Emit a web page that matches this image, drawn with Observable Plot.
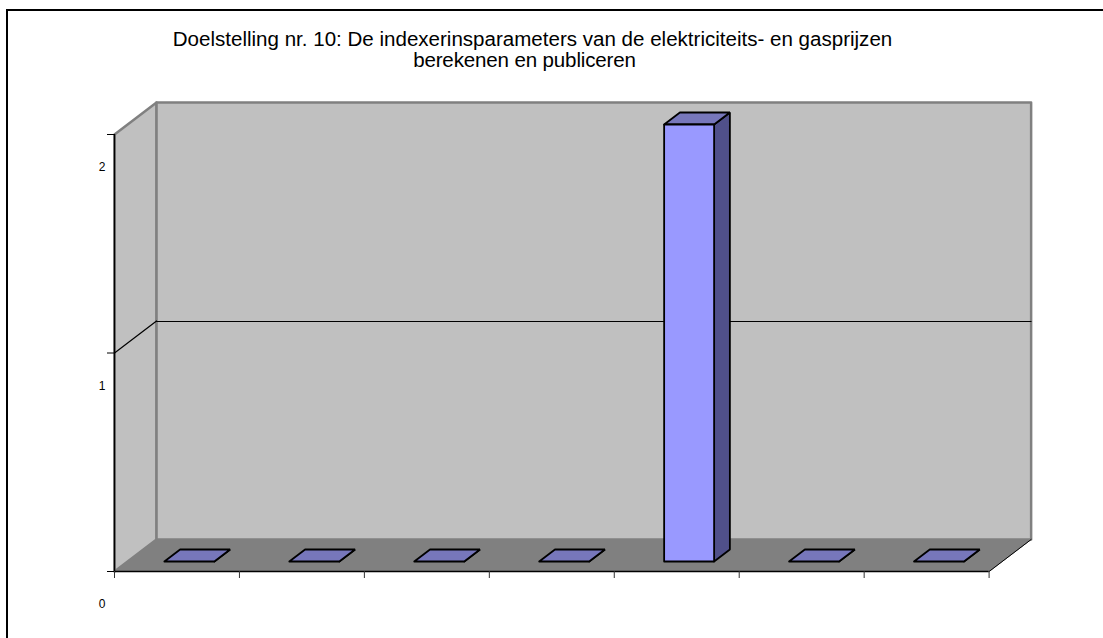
<!DOCTYPE html>
<html>
<head>
<meta charset="utf-8">
<script src="https://cdn.jsdelivr.net/npm/d3@7"></script>
<script src="https://cdn.jsdelivr.net/npm/@observablehq/plot@0.6"></script>
<style>
html,body{margin:0;padding:0;background:#fff;}
#frame{position:absolute;left:6px;top:9px;width:1097px;height:629px;border-left:2px solid #000;border-top:2px solid #000;box-sizing:border-box;}
#title{position:absolute;left:0;top:28px;width:1065px;text-align:center;font:20.55px/21px "Liberation Sans",Arial,sans-serif;color:#000;white-space:nowrap;}
#title span{position:relative;left:-8px;letter-spacing:-0.15px;}
#chart{position:absolute;left:0;top:0;}
svg{display:block;}
</style>
</head>
<body>
<div id="frame"></div>
<div id="chart"></div>
<div id="title">Doelstelling nr. 10: De indexerinsparameters van de elektriciteits- en gasprijzen<br><span>berekenen en publiceren</span></div>
<script>
// Data
const categories = [1, 2, 3, 4, 5, 6, 7];
const values = [0, 0, 0, 0, 2, 0, 0];
const yTicks = [0, 1, 2];
const xBoundaries = [0, 1, 2, 3, 4, 5, 6, 7];

// 3D projection, in data units: full depth shifts this much in x and y
const depthX = 42 / 124.86, depthY = 32 / 218.5;
const barWidth = 0.4, barShift = -0.006, zFront = 0.3125, zBack = 0.6875, yMax = 2, n = categories.length;
const P = (x, y, z) => [x + z * depthX, y + z * depthY];

const polys = [];
const poly = (id, pts, group) => polys.push(...[...pts, pts[0]].map(p => { const [x, y] = P(...p); return {id, group, x, y}; }));

poly("floor", [[0,0,0],[n,0,0],[n,0,1],[0,0,1]], "floor");
poly("left", [[0,0,0],[0,yMax,0],[0,yMax,1],[0,0,1]], "wall");
poly("back", [[0,0,1],[n,0,1],[n,yMax,1],[0,yMax,1]], "wall");

categories.forEach((c, i) => {
  const x0 = i + 0.5 + barShift - barWidth / 2, x1 = x0 + barWidth, v = values[i];
  poly("side" + c, [[x1,0,zFront],[x1,0,zBack],[x1,v,zBack],[x1,v,zFront]], "side");
  poly("top" + c, [[x0,v,zFront],[x1,v,zFront],[x1,v,zBack],[x0,v,zBack]], "top");
  if (v > 0) poly("front" + c, [[x0,0,zFront],[x1,0,zFront],[x1,v,zFront],[x0,v,zFront]], "front");
});
const of = g => polys.filter(d => d.group === g);
const seg = (a, b) => [a, b].map(p => { const [x, y] = P(...p); return {x, y}; });
const barStyle = {x: "x", y: "y", z: "id", stroke: "#000", strokeWidth: 1.8, strokeLinejoin: "miter", curve: "linear"};

const chart = Plot.plot({
  width: 1103,
  height: 638,
  marginLeft: 114,
  marginRight: 114.4,
  marginTop: 134,
  marginBottom: 67,
  style: {background: "transparent", overflow: "visible"},
  x: {domain: [0, n], axis: null},
  y: {domain: [0, yMax], axis: null},
  marks: [
    Plot.line(of("wall"), {x: "x", y: "y", z: "id", fill: "#c0c0c0", stroke: "#808080", strokeWidth: 2.5, curve: "linear"}),
    Plot.line(of("floor"), {x: "x", y: "y", z: "id", fill: "#808080", stroke: "#808080", strokeWidth: 1, curve: "linear"}),
    // gridline at value 1 around walls
    Plot.line(seg([0,1,0],[0,1,1]), {x: "x", y: "y", stroke: "#000", strokeWidth: 1.2, curve: "linear"}),
    Plot.line(seg([0,1,1],[n,1,1]), {x: "x", y: "y", dy: 0.5, stroke: "#000", strokeWidth: 1, curve: "linear"}),
    Plot.line(seg([n,0,0],[n,0,1]), {x: "x", y: "y", stroke: "#000", strokeWidth: 1, curve: "linear"}),
    // bars
    Plot.line(of("side"), {...barStyle, fill: "#50508a"}),
    Plot.line(of("top"), {...barStyle, fill: "#7777bb"}),
    Plot.line(of("front"), {...barStyle, fill: "#9999ff"}),
    // axes
    Plot.ruleY([0], {stroke: "#000", strokeWidth: 1.5}),
    Plot.ruleX([0], {stroke: "#000", strokeWidth: 1.5}),
    Plot.axisX({ticks: xBoundaries, tickSize: 7, tickFormat: () => "", stroke: "#333", label: null}),
    Plot.axisY({ticks: yTicks, tickSize: 7, tickFormat: () => "", stroke: "#000", label: null}),
    Plot.axisY({ticks: yTicks, tickSize: 0, tickPadding: 9, dy: 33, tickFormat: d => String(d), fontSize: 12, fill: "#000", fontFamily: "Liberation Sans, Arial, sans-serif", label: null})
  ]
});
document.getElementById("chart").appendChild(chart);
</script>
</body>
</html>
